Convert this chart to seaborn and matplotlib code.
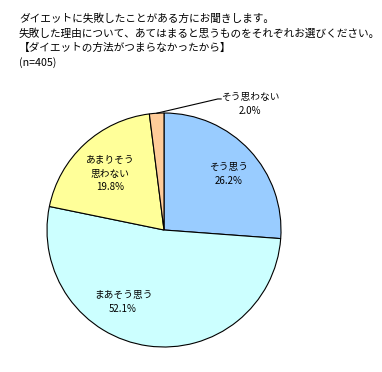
import matplotlib
matplotlib.use('Agg')
import numpy as np
import matplotlib.pyplot as plt
import seaborn as sns

sns.set_theme(style='white')
plt.rcParams['font.family'] = ['Noto Sans CJK JP', 'DejaVu Sans']

# question text and answers
title_lines = ['ダイエットに失敗したことがある方にお聞きします。',
               '失敗した理由について、あてはまると思うものをそれぞれお選びください。',
               '【ダイエットの方法がつまらなかったから】',
               '(n=405)']
categories = ['そう思う', 'まあそう思う', 'あまりそう\n思わない', 'そう思わない']
shares = [26.2, 52.1, 19.8, 2.0]
colors = ['#99CCFF', '#CCFFFF', '#FFFF99', '#FFCC99']

# where the labels sit, in pie radius units
label_pos = [(0.55, 0.48), (-0.35, -0.615), (-0.46, 0.48)]
outside_label = (0.735, 1.075)

fig = plt.figure(figsize=(3.82, 3.72), dpi=100)
fig.patch.set_facecolor('white')

# title block, one line at a time
for i, line in enumerate(title_lines):
    fig.text(19 / 382, 1 - (19 + i * 14.5) / 372, line, fontsize=7.7,
             va='center', ha='left', color='black')

# pie: centre at (164, 230) px, radius 117 px
ax = fig.add_axes([47 / 382, 25 / 372, 234 / 382, 234 / 372])
wedges, _ = ax.pie(shares, colors=colors, startangle=90, counterclock=False,
                   wedgeprops=dict(edgecolor='black', linewidth=0.8))
ax.set_xlim(-1, 1)
ax.set_ylim(-1, 1)
ax.set_aspect('equal')
ax.axis('off')

for (x, y), name, val in zip(label_pos, categories, shares):
    ax.text(x, y, f'{name}\n{val:.1f}%', ha='center', va='center',
            fontsize=7, linespacing=1.45, color='black')

# small slice gets a leader line and an outside label
w = wedges[3]
mid = np.deg2rad((w.theta1 + w.theta2) / 2)
ax.plot([np.cos(mid), 0.46, 0.49], [np.sin(mid), 1.12, 1.12],
        color='black', lw=0.8, clip_on=False)
ax.text(outside_label[0], outside_label[1],
        f'{categories[3]}\n{shares[3]:.1f}%', ha='center', va='center',
        fontsize=7, linespacing=1.45, color='black')

fig.savefig('out.png', dpi=100, facecolor='white')
